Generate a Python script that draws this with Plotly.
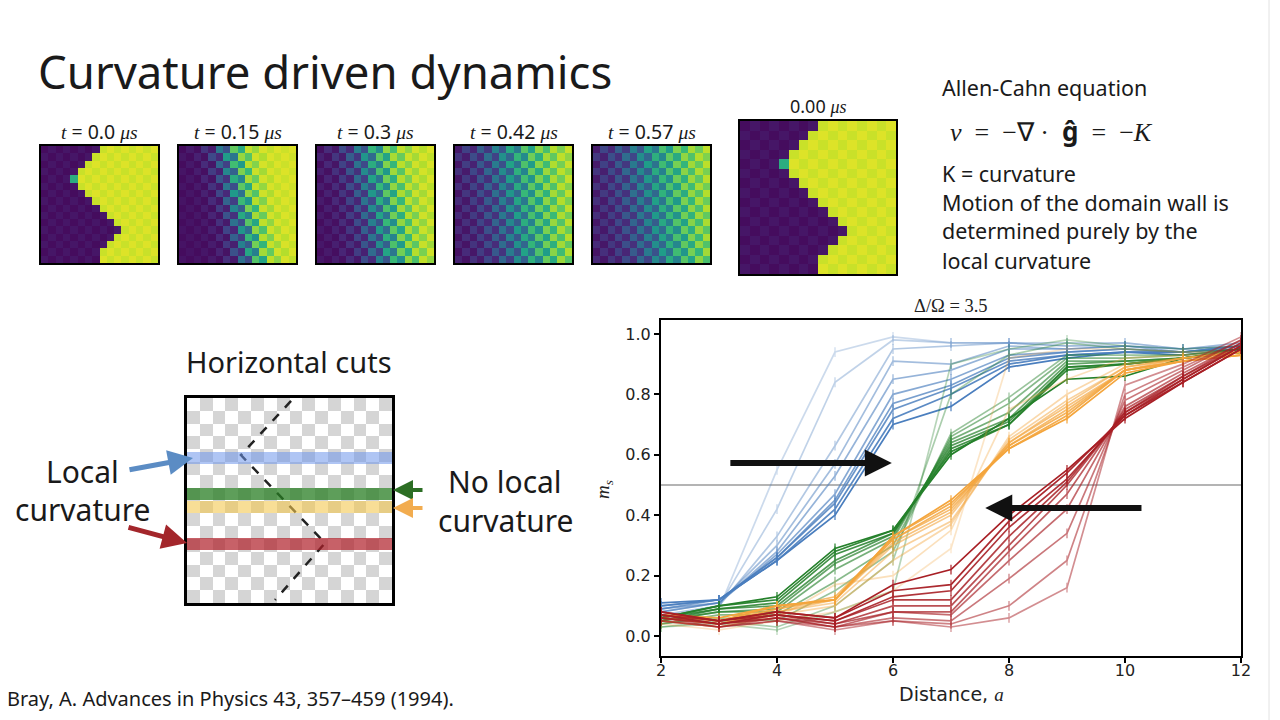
import numpy as np
import plotly.graph_objects as go

W, H = 1280, 720
def fx(x): return x / W
def fy(y): return 1 - y / H

# ---------------- data: horizontal cuts m_s vs distance ----------------
distance = [2, 3, 4, 5, 6, 7, 8, 9, 10, 11, 12]

blue_cuts = [
    [0.05, 0.09, 0.55, 0.94, 0.99, 0.97, 0.97, 0.96, 0.97, 0.95, 0.97],
    [0.06, 0.10, 0.42, 0.84, 0.98, 0.97, 0.97, 0.97, 0.97, 0.95, 0.97],
    [0.07, 0.10, 0.33, 0.63, 0.95, 0.96, 0.97, 0.96, 0.96, 0.95, 0.96],
    [0.08, 0.11, 0.30, 0.57, 0.91, 0.90, 0.96, 0.95, 0.96, 0.95, 0.96],
    [0.08, 0.11, 0.28, 0.53, 0.85, 0.88, 0.95, 0.95, 0.96, 0.94, 0.96],
    [0.09, 0.11, 0.27, 0.47, 0.80, 0.85, 0.93, 0.94, 0.95, 0.94, 0.96],
    [0.09, 0.12, 0.26, 0.45, 0.77, 0.83, 0.92, 0.94, 0.95, 0.94, 0.96],
    [0.10, 0.12, 0.26, 0.44, 0.75, 0.82, 0.91, 0.93, 0.94, 0.94, 0.96],
    [0.10, 0.12, 0.25, 0.42, 0.72, 0.80, 0.90, 0.93, 0.94, 0.94, 0.95],
    [0.11, 0.12, 0.25, 0.40, 0.70, 0.76, 0.89, 0.92, 0.94, 0.93, 0.95],
]
green_cuts = [
    [0.03, 0.04, 0.02, 0.08, 0.15, 0.90, 0.95, 0.98, 0.96, 0.95, 0.96],
    [0.03, 0.05, 0.03, 0.10, 0.25, 0.80, 0.93, 0.97, 0.95, 0.94, 0.95],
    [0.04, 0.06, 0.05, 0.15, 0.28, 0.67, 0.79, 0.93, 0.93, 0.93, 0.95],
    [0.04, 0.07, 0.07, 0.18, 0.30, 0.66, 0.77, 0.92, 0.92, 0.93, 0.95],
    [0.05, 0.08, 0.08, 0.22, 0.32, 0.65, 0.74, 0.91, 0.91, 0.92, 0.95],
    [0.05, 0.08, 0.09, 0.24, 0.33, 0.64, 0.72, 0.90, 0.91, 0.92, 0.95],
    [0.05, 0.09, 0.10, 0.25, 0.34, 0.63, 0.71, 0.89, 0.90, 0.92, 0.94],
    [0.06, 0.09, 0.11, 0.27, 0.34, 0.62, 0.70, 0.89, 0.90, 0.92, 0.94],
    [0.06, 0.10, 0.12, 0.28, 0.35, 0.61, 0.70, 0.88, 0.90, 0.92, 0.94],
    [0.06, 0.10, 0.13, 0.29, 0.35, 0.60, 0.72, 0.85, 0.86, 0.92, 0.94],
]
orange_cuts = [
    [0.04, 0.02, 0.05, 0.08, 0.15, 0.29, 0.92, 0.95, 0.95, 0.94, 0.94],
    [0.05, 0.03, 0.06, 0.17, 0.20, 0.35, 0.75, 0.85, 0.92, 0.93, 0.94],
    [0.05, 0.03, 0.07, 0.10, 0.25, 0.37, 0.66, 0.80, 0.90, 0.92, 0.94],
    [0.06, 0.04, 0.08, 0.11, 0.28, 0.38, 0.65, 0.78, 0.89, 0.92, 0.94],
    [0.06, 0.04, 0.08, 0.12, 0.30, 0.40, 0.64, 0.77, 0.89, 0.92, 0.94],
    [0.06, 0.04, 0.09, 0.12, 0.31, 0.41, 0.64, 0.76, 0.88, 0.92, 0.94],
    [0.07, 0.05, 0.09, 0.13, 0.32, 0.42, 0.63, 0.75, 0.88, 0.91, 0.94],
    [0.07, 0.05, 0.10, 0.12, 0.32, 0.43, 0.63, 0.74, 0.88, 0.91, 0.93],
    [0.07, 0.05, 0.10, 0.12, 0.33, 0.44, 0.62, 0.73, 0.88, 0.91, 0.93],
    [0.07, 0.06, 0.10, 0.12, 0.33, 0.45, 0.62, 0.72, 0.87, 0.91, 0.93],
]
red_cuts = [
    [0.05, 0.03, 0.05, 0.02, 0.05, 0.03, 0.06, 0.16, 0.83, 0.90, 0.99],
    [0.05, 0.03, 0.05, 0.03, 0.05, 0.04, 0.10, 0.25, 0.80, 0.89, 0.98],
    [0.06, 0.03, 0.06, 0.03, 0.06, 0.05, 0.19, 0.34, 0.78, 0.88, 0.98],
    [0.06, 0.04, 0.06, 0.03, 0.08, 0.07, 0.25, 0.42, 0.76, 0.87, 0.97],
    [0.06, 0.04, 0.06, 0.04, 0.08, 0.08, 0.28, 0.47, 0.75, 0.86, 0.97],
    [0.07, 0.04, 0.07, 0.04, 0.10, 0.10, 0.30, 0.50, 0.74, 0.86, 0.96],
    [0.07, 0.04, 0.07, 0.05, 0.12, 0.12, 0.33, 0.51, 0.74, 0.85, 0.96],
    [0.07, 0.05, 0.07, 0.05, 0.13, 0.15, 0.36, 0.52, 0.73, 0.85, 0.96],
    [0.08, 0.05, 0.08, 0.06, 0.15, 0.17, 0.38, 0.54, 0.73, 0.84, 0.95],
    [0.08, 0.05, 0.08, 0.06, 0.17, 0.22, 0.40, 0.55, 0.72, 0.84, 0.95],
]
families = [
    (blue_cuts, "#4a7ebe", [0.28, 0.34, 0.42, 0.5, 0.58, 0.66, 0.74, 0.82, 0.9, 1.0]),
    (green_cuts, "#24802a", [0.32, 0.38, 0.46, 0.54, 0.62, 0.7, 0.78, 0.86, 0.93, 1.0]),
    (orange_cuts, "#f4a53c", [0.28, 0.34, 0.42, 0.5, 0.58, 0.66, 0.74, 0.82, 0.9, 1.0]),
    (red_cuts, "#a81f25", [0.5, 0.55, 0.6, 0.66, 0.72, 0.78, 0.84, 0.9, 0.95, 1.0]),
]
yticks = [0.0, 0.2, 0.4, 0.6, 0.8, 1.0]
xticks = [2, 4, 6, 8, 10, 12]

# ---------------- data: snapshots ----------------
N = 16
wall_t0 = [8, 7, 6, 5, 5, 5, 6, 7, 8, 9, 10, 11, 10, 9, 8, 8]   # first bright column per row
notch_cell = (4, 4)
snap_times = ["0.0", "0.15", "0.3", "0.42", "0.57"]
# wall centre at top row, at bottom row, wall width, checker amplitude
wall_top = [None, 6.4, 6.8, 7.3, 7.5]
wall_bot = [None, 9.6, 9.7, 9.8, 10.0]
wall_width = [None, 1.3, 2.0, 3.0, 3.3]
checker_amp = [None, 0.16, 0.14, 0.12, 0.11]

# ---------------- data: schematic ----------------
band_rows = {"blue": 4.18, "green": 6.99, "yellow": 8.0, "red": 10.9}
band_colors = {"blue": "rgba(110,150,235,0.55)", "green": "rgba(40,125,35,0.75)",
               "yellow": "rgba(244,200,80,0.6)", "red": "rgba(175,30,40,0.7)"}
wall_x = [7.62, 3.71, 10.27, 6.37]
wall_y = [-0.27, 3.95, 10.82, 15.27]

fig = go.Figure()

# ---- snapshot heatmaps ----
def frame_initial():
    z = np.zeros((N, N))
    for r in range(N):
        for c in range(N):
            chk = 0.03 if (r + c) % 2 else 0.0
            z[r, c] = (0.92 + chk) if c >= wall_t0[r] else (0.03 + chk)
    z[notch_cell] = 0.62
    return z

def frame_blur(k):
    z = np.zeros((N, N))
    for r in range(N):
        cen = wall_top[k] + (wall_bot[k] - wall_top[k]) * r / (N - 1)
        for c in range(N):
            s = 1 / (1 + np.exp(-(c - cen) / wall_width[k]))
            chk = checker_amp[k] * (1 if (r + c) % 2 else -1) * 4 * s * (1 - s)
            base = 0.03 + 0.9 * s + chk + (0.02 if (r + c) % 2 else 0)
            z[r, c] = min(max(base, 0), 1)
    return z

hm_boxes = [(41, 158, 146, 263), (179, 296, 146, 263), (317, 434, 146, 263),
            (455, 572, 146, 263), (593, 710, 146, 263), (740, 896, 121, 274)]
frames = [frame_initial()] + [frame_blur(k) for k in range(1, 5)] + [frame_initial()]

layout_axes = {}
for i, (z, box) in enumerate(zip(frames, hm_boxes)):
    n = i + 2
    fig.add_trace(go.Heatmap(z=z, colorscale="Viridis", zmin=0, zmax=1, showscale=False,
                             xaxis=f"x{n}", yaxis=f"y{n}", hoverinfo="skip"))
    ax = dict(domain=[fx(box[0]), fx(box[1])], range=[-0.5, N - 0.5], showticklabels=False,
              ticks="", showgrid=False, zeroline=False, showline=True, mirror=True,
              linecolor="black", linewidth=2, anchor=f"y{n}", automargin=False)
    ay = dict(domain=[fy(box[3]), fy(box[2])], range=[N - 0.5, -0.5], showticklabels=False,
              ticks="", showgrid=False, zeroline=False, showline=True, mirror=True,
              linecolor="black", linewidth=2, anchor=f"x{n}", automargin=False)
    layout_axes[f"xaxis{n}"] = ax
    layout_axes[f"yaxis{n}"] = ay

# ---- schematic ----
checker = [[(r + c) % 2 for c in range(N)] for r in range(N)]
fig.add_trace(go.Heatmap(z=checker, colorscale=[[0, "white"], [1, "#d5d5d5"]], showscale=False,
                         xaxis="x8", yaxis="y8", hoverinfo="skip"))
fig.add_trace(go.Scatter(x=wall_x, y=wall_y, mode="lines", xaxis="x8", yaxis="y8",
                         line=dict(color="#222", width=2.5, dash="dash"), hoverinfo="skip",
                         showlegend=False))
sbox = (187, 392, 398, 603)
layout_axes["xaxis8"] = dict(domain=[fx(sbox[0]), fx(sbox[1])], range=[-0.5, N - 0.5],
                             showticklabels=False, ticks="", showgrid=False, zeroline=False,
                             showline=True, mirror=True, linecolor="black", linewidth=3,
                             anchor="y8", automargin=False)
layout_axes["yaxis8"] = dict(domain=[fy(sbox[3]), fy(sbox[2])], range=[N - 0.5, -0.5],
                             showticklabels=False, ticks="", showgrid=False, zeroline=False,
                             showline=True, mirror=True, linecolor="black", linewidth=3,
                             anchor="x8", automargin=False)
shapes = []
for k, row in band_rows.items():
    shapes.append(dict(type="rect", xref="x8", yref="y8", x0=-0.5, x1=N - 0.5,
                       y0=row - 0.47, y1=row + 0.47, fillcolor=band_colors[k], line_width=0,
                       layer="above"))

# ---- main chart ----
for cuts, color, ops in families:
    for vals, op in zip(cuts, ops):
        fig.add_trace(go.Scatter(x=distance, y=vals, mode="lines+markers", opacity=op,
                                 line=dict(color=color, width=1.7),
                                 marker=dict(symbol="line-ns", size=7,
                                             line=dict(width=1.2, color=color)),
                                 xaxis="x", yaxis="y", showlegend=False, hoverinfo="skip"))

shapes.append(dict(type="line", xref="x", yref="y", x0=2, x1=12, y0=0.5, y1=0.5,
                   line=dict(color="#b4b4b4", width=2), layer="below"))
shapes.append(dict(type="line", xref="paper", yref="paper", x0=fx(1269), x1=fx(1269), y0=0, y1=1,
                   line=dict(color="#e2e2e2", width=1)))

SANS = "Noto Sans"
SERIF = "Liberation Serif"
ann = []
def text(x, y, s, size, font=SANS, anchor="left", color="#1a1a1a", **kw):
    ann.append(dict(x=fx(x), y=fy(y), xref="paper", yref="paper", text=s, showarrow=False,
                    xanchor=anchor, yanchor="middle", font=dict(family=font, size=size, color=color),
                    **kw))

text(36, 71, "Curvature driven dynamics", 45.5)
def mu(s):
    return ("<span style='font-family:Liberation Serif'><i>t</i></span> = " + s +
            " <span style='font-family:Liberation Serif'><i>μs</i></span>")
for (x0, x1, y0, y1), tt in zip(hm_boxes[:5], snap_times):
    text((x0 + x1) / 2, 131, mu(tt), 19.5, anchor="center")
text(818, 106, "0.00 <span style='font-family:Liberation Serif'><i>μs</i></span>", 18, anchor="center")

text(940, 87, "Allen-Cahn equation", 21.5)
text(948, 131, "<i>v</i>&nbsp; = &nbsp;−∇ · &nbsp;<b><span style='font-family:Noto Sans'>ĝ</span></b>&nbsp; = &nbsp;−<i>K</i>",
     26, font=SERIF)
text(940, 173, "K = curvature", 21.5)
text(940, 202, "Motion of the domain wall is", 21.5)
text(940, 231, "determined purely by the", 21.5)
text(940, 260, "local curvature", 21.5)

text(289, 361, "Horizontal cuts", 29, anchor="center")
text(82, 471, "Local", 30, anchor="center")
text(82, 509, "curvature", 30, anchor="center")
text(505, 482, "No local", 30, anchor="center")
text(505, 520, "curvature", 30, anchor="center")
text(5, 698, "Bray, A. Advances in Physics 43, 357–459 (1994).", 20)

# schematic arrows
def parrow(hx, hy, tx, ty, color, width):
    ann.append(dict(x=fx(hx), y=fy(hy), xref="paper", yref="paper", ax=tx - hx, ay=ty - hy,
                    text="", showarrow=True, arrowhead=2, arrowsize=1, arrowwidth=width,
                    arrowcolor=color))
parrow(193, 458, 128, 470, "#5b8cc4", 5)
parrow(187, 543, 127, 527, "#a3262b", 5)
parrow(393, 490, 424, 490, "#2c6e24", 4)
parrow(393, 508, 424, 508, "#f2ac4f", 4)

# main chart annotations
ann.append(dict(x=5.98, y=0.573, xref="x", yref="y", ax=3.17, ay=0.573, axref="x", ayref="y",
                text="", showarrow=True, arrowhead=2, arrowsize=0.9, arrowwidth=6, arrowcolor="#111"))
ann.append(dict(x=7.59, y=0.424, xref="x", yref="y", ax=10.31, ay=0.424, axref="x", ayref="y",
                text="", showarrow=True, arrowhead=2, arrowsize=0.9, arrowwidth=6, arrowcolor="#111"))
text(951, 306, "Δ/Ω = 3.5", 18.5, font=SERIF, anchor="center", color="#222")
text(951, 694, "Distance, <span style='font-family:Liberation Serif'><i>a</i></span>", 19,
     font="DejaVu Sans", anchor="center", color="#222")
text(604, 490, "<i>m</i><sub><i>s</i></sub>", 19, font=SERIF, anchor="center", color="#222",
     textangle=-90)

fig.update_layout(
    width=W, height=H, autosize=False, margin=dict(l=0, r=0, t=0, b=0, pad=0, autoexpand=False),
    paper_bgcolor="white", plot_bgcolor="white", showlegend=False,
    xaxis=dict(domain=[fx(661), fx(1241)], range=[2, 12], tickvals=xticks,
               ticks="outside", ticklen=5, tickwidth=1.5, tickcolor="black",
               showline=True, mirror=True, linecolor="black", linewidth=2,
               showgrid=False, zeroline=False, anchor="y", automargin=False,
               ticklabelstandoff=-6,
               tickfont=dict(family="DejaVu Sans", size=16, color="#222")),
    yaxis=dict(domain=[fy(656), fy(320)], range=[-0.066, 1.046], tickvals=yticks,
               tickformat=".1f", ticks="outside", ticklen=5, tickwidth=1.5, tickcolor="black",
               showline=True, mirror=True, linecolor="black", linewidth=2,
               showgrid=False, zeroline=False, anchor="x", automargin=False,
               tickfont=dict(family="DejaVu Sans", size=16, color="#222")),
    shapes=shapes, annotations=ann,
    **layout_axes,
)

fig.write_html("out.html", config={"responsive": False},
               post_script="document.body.style.margin='0';document.body.style.overflow='hidden';")
